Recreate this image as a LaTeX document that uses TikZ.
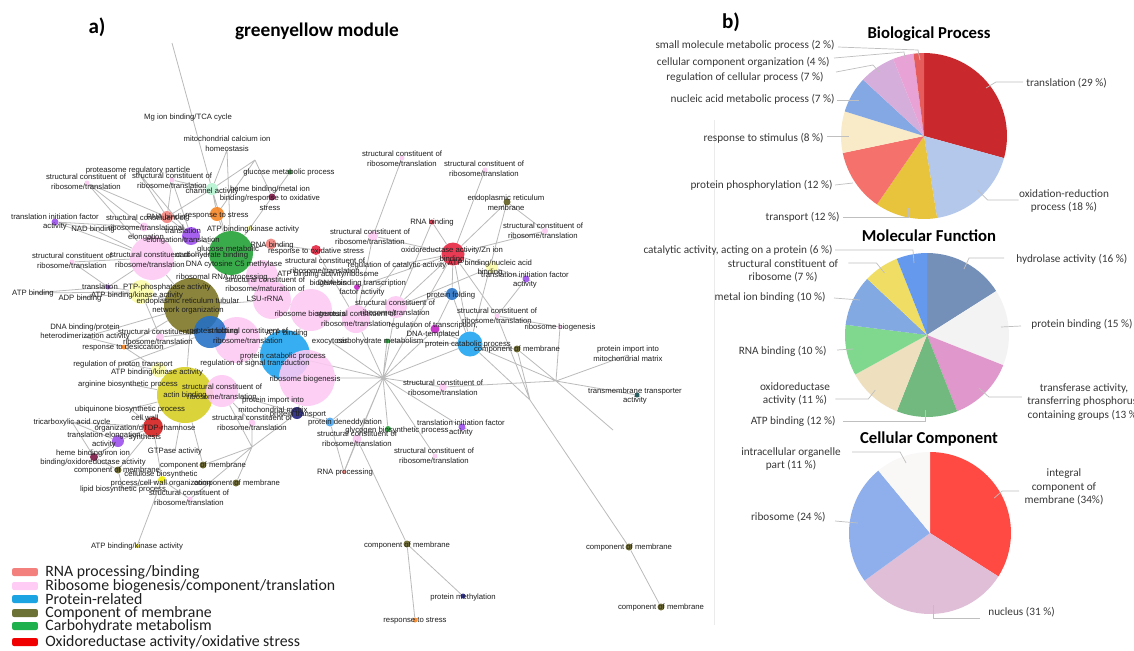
\documentclass[tikz,border=0pt]{standalone}
\usepackage{fontspec}
\setmainfont{Carlito}
\newfontfamily\netfont{Liberation Sans}
\usetikzlibrary{backgrounds}

\definecolor{pinkR}{HTML}{FDC9F4}
\definecolor{oliveB}{HTML}{7B7422}
\definecolor{oliveS}{HTML}{5F5C1E}
\definecolor{greenC}{HTML}{1FA033}
\definecolor{skyC}{HTML}{1CA3F0}
\definecolor{blueD}{HTML}{236FC6}
\definecolor{salmonC}{HTML}{F0807A}
\definecolor{orangeC}{HTML}{F5821F}
\definecolor{purpleC}{HTML}{9A4CEC}
\definecolor{crimsonC}{HTML}{E8213D}
\definecolor{redD}{HTML}{D41A1A}
\definecolor{yellowC}{HTML}{D6CE1E}
\definecolor{yellowB}{HTML}{F2F000}
\definecolor{lyellowC}{HTML}{FCFCA6}
\definecolor{maroonC}{HTML}{7A1242}
\definecolor{mintC}{HTML}{B2F2CF}
\definecolor{magentaC}{HTML}{C21FC4}
\definecolor{navyC}{HTML}{1C1C7E}
\definecolor{tealC}{HTML}{0F4A4A}
\definecolor{lblueC}{HTML}{46A4F2}
% legend
\definecolor{legRNA}{HTML}{F4807E}
\definecolor{legRibo}{HTML}{FFCCF6}
\definecolor{legProt}{HTML}{1BA3E2}
\definecolor{legMem}{HTML}{6C7136}
\definecolor{legCarb}{HTML}{1DB04C}
\definecolor{legOx}{HTML}{F00000}
% pies
\definecolor{bp1}{HTML}{C9292C}
\definecolor{bp2}{HTML}{B4C8EC}
\definecolor{bp3}{HTML}{E8C33C}
\definecolor{bp4}{HTML}{F4726B}
\definecolor{bp5}{HTML}{FAEBC8}
\definecolor{bp6}{HTML}{84A8E4}
\definecolor{bp7}{HTML}{D6AEDB}
\definecolor{bp8}{HTML}{E9A2D6}
\definecolor{bp9}{HTML}{E65C5C}
\definecolor{mf1}{HTML}{7590B8}
\definecolor{mf2}{HTML}{F3F3F3}
\definecolor{mf3}{HTML}{E098CC}
\definecolor{mf4}{HTML}{72B97F}
\definecolor{mf5}{HTML}{EEDFBF}
\definecolor{mf6}{HTML}{80D88F}
\definecolor{mf7}{HTML}{82A9E2}
\definecolor{mf8}{HTML}{F0DE64}
\definecolor{mf9}{HTML}{6499EE}
\definecolor{cc1}{HTML}{FF4A44}
\definecolor{cc2}{HTML}{E0BED7}
\definecolor{cc3}{HTML}{8EAFEC}
\definecolor{cc4}{HTML}{FAF7F7}

\begin{document}
\begin{tikzpicture}[x=0.02cm, y=-0.02cm,
  goterm/.style={circle, inner sep=0pt, minimum size={#1*0.02cm}, fill opacity=0.88},
  lbl/.style={font=\netfont\fontsize{4.4}{5.5}\selectfont, align=center, inner sep=0pt, text=black!88},
  link/.style={draw=black!27, line width=0.45pt},
  pielbl/.style={font=\fontsize{6.4}{7.8}\selectfont, text=black!78, inner sep=0pt},
  lead/.style={draw=black!25, line width=0.4pt},
  pietitle/.style={font=\bfseries\fontsize{9.5}{11}\selectfont, inner sep=0pt},
  legbox/.style={fill=#1, rounded corners=1.2pt, minimum width=0.52cm, minimum height=0.16cm, inner sep=0pt},
  legtxt/.style={font=\fontsize{9}{10}\selectfont, anchor=west, inner sep=0pt, text=black!88}]
\useasboundingbox (0,0) rectangle (1134,650);

\node[font=\bfseries\fontsize{12}{14}\selectfont] (la) at (97,27) {a)};
\node[font=\bfseries\fontsize{11}{13}\selectfont] (ttl) at (317,31) {greenyellow module};
\node[font=\bfseries\fontsize{12}{14}\selectfont] (lb) at (731,22) {b)};

% big terms
\node[goterm=56, fill=oliveB] (ertub) at (192,306) {};
\node[goterm=56, fill=yellowC] (actin) at (185,395) {};
\node[goterm=44, fill=greenC] (glucose) at (231,253) {};
\node[goterm=44, fill=pinkR] (ribo1) at (152,258) {};
\node[goterm=32, fill=pinkR] (ribo7) at (262,276) {};
\node[goterm=38, fill=pinkR] (ribo9) at (272,300) {};
\node[goterm=46, fill=pinkR] (ribo2) at (237,340) {};
\node[goterm=42, fill=pinkR] (ribo3) at (311,310) {};
\node[goterm=28, fill=pinkR] (ribo4) at (356,319) {};
\node[goterm=32, fill=pinkR] (ribo5) at (222,391) {};
\node[goterm=50, fill=skyC] (atpcat) at (285,355) {};
\node[goterm=56, fill=pinkR] (ribobig) at (307,378) {};
\node[goterm=32, fill=blueD] (pfold) at (210,332) {};
\node[goterm=22, fill=pinkR] (ribo6) at (396,307) {};
\node[goterm=25, fill=skyC] (pcat) at (470,344) {};
\node[goterm=23, fill=crimsonC] (oxzn) at (453,254) {};

% small terms
\node[goterm=18, fill=purpleC] (transl) at (191,236) {};
\node[goterm=24, fill=lyellowC] (ptp) at (141,292) {};
\node[goterm=15, fill=lyellowC] (atpk) at (159,370) {};
\node[goterm=20, fill=redD] (cellwall) at (153,427) {};
\node[goterm=12, fill=purpleC] (telong) at (118,441) {};
\node[goterm=12, fill=mintC] (chan) at (212,189) {};
\node[goterm=14, fill=orangeC] (respstr) at (217,214) {};
\node[goterm=12, fill=salmonC] (rnab1) at (167,217) {};
\node[goterm=7, fill=maroonC] (heme1) at (272,197) {};
\node[goterm=5, fill=greenC] (glumet) at (290,172) {};
\node[goterm=7, fill=purpleC] (tif1) at (55,222) {};
\node[goterm=9, fill=pinkR] (stel) at (144,227) {};
\node[goterm=5, fill=lyellowC] (atpk3) at (250,228) {};
\node[goterm=11, fill=salmonC] (rnab2) at (271,244) {};
\node[goterm=10, fill=crimsonC] (oxstr) at (316,250) {};
\node[goterm=5, fill=purpleC] (trl) at (108,287) {};
\node[goterm=5, fill=orangeC] (desicc) at (124,347) {};
\node[goterm=8, fill=pinkR] (st5) at (160,337) {};
\node[goterm=7, fill=pinkR] (st6) at (252,423) {};
\node[goterm=8, fill=maroonC] (heme2) at (94,457) {};
\node[goterm=7, fill=oliveS] (cm1) at (203,465) {};
\node[goterm=7, fill=oliveS] (cm2) at (118,470) {};
\node[goterm=8, fill=yellowB] (cellu) at (162,480) {};
\node[goterm=7, fill=oliveS] (cm3) at (236,483) {};
\node[goterm=5, fill=pinkR] (st10) at (190,499) {};
\node[goterm=4, fill=yellowC] (atpk2) at (137,546) {};
\node[goterm=12, fill=navyC] (ptrans) at (297,413) {};
\node[goterm=9, fill=lblueC] (pdened) at (330,422) {};
\node[goterm=6, fill=greenC] (glyco) at (388,429) {};
\node[goterm=4, fill=salmonC] (rnap) at (344,472) {};
\node[goterm=9, fill=pinkR] (st11) at (357,439) {};
\node[goterm=5, fill=pinkR] (st12) at (402,158) {};
\node[goterm=5, fill=pinkR] (st13) at (485,170) {};
\node[goterm=7, fill=oliveS] (ermem) at (507,202) {};
\node[goterm=5, fill=crimsonC] (rnab3) at (432,222) {};
\node[goterm=6, fill=pinkR] (st14) at (545,231) {};
\node[goterm=10, fill=pinkR] (st15) at (373,236) {};
\node[goterm=12, fill=lyellowC] (atpnuc) at (492,267) {};
\node[goterm=7, fill=purpleC] (tif2) at (526,279) {};
\node[goterm=12, fill=blueD] (pfold2) at (452,294) {};
\node[goterm=6, fill=magentaC] (dnatf) at (357,287) {};
\node[goterm=5, fill=pinkR] (st16) at (497,316) {};
\node[goterm=9, fill=magentaC] (regtr) at (435,329) {};
\node[goterm=4, fill=pinkR] (ribog) at (560,327) {};
\node[goterm=5, fill=greenC] (carbo) at (387,341) {};
\node[goterm=7, fill=oliveS] (cm4) at (517,349) {};
\node[goterm=8, fill=pinkR] (st17) at (443,387) {};
\node[goterm=5, fill=tealC] (tmt) at (637,395) {};
\node[goterm=7, fill=purpleC] (tif3) at (462,427) {};
\node[goterm=5, fill=pinkR] (st18) at (435,456) {};
\node[goterm=7, fill=oliveS] (cm5) at (407,544) {};
\node[goterm=5, fill=navyC] (pmeth) at (463,596) {};
\node[goterm=5, fill=orangeC] (resp2) at (415,620) {};
\node[goterm=7, fill=oliveS] (cm6) at (629,547) {};
\node[goterm=7, fill=oliveS] (cm7) at (661,607) {};
\node[goterm=5, fill=pinkR] (st1) at (87,183) {};
\node[goterm=5, fill=pinkR] (st2) at (172,180) {};
\node[goterm=5, fill=pinkR] (st3) at (72,262) {};

% white (hidden) nodes
\coordinate (htop) at (172,43);
\coordinate (hC) at (255,160);
\coordinate (hD) at (383,378);
\coordinate (hE) at (556,381);
\coordinate (hF) at (530,400);
\coordinate (hG) at (613,430);
\coordinate (hM) at (252,447);
\coordinate (mca) at (227,150);
\coordinate (prot) at (138,172);
\coordinate (nad) at (93,229);
\coordinate (atpb) at (33,293);
\coordinate (adp) at (80,298);
\coordinate (dnab) at (85,337);
\coordinate (rpt) at (123,364);
\coordinate (arg) at (128,384);
\coordinate (ubq) at (130,409);
\coordinate (tca) at (72,422);
\coordinate (gtp) at (175,451);
\coordinate (lipid) at (123,489);
\coordinate (regcat) at (397,265);
\coordinate (exo) at (330,341);
\coordinate (pimp) at (628,355);
\coordinate (rsig) at (255,363);

\begin{scope}[on background layer]
\fill[white] (0,0) rectangle (1134,650);
\draw[link] (htop) -- (chan) (mca) -- (chan) (hC) -- (chan) (hC) -- (respstr) (hC) -- (heme1) (mca) -- (glucose);
\draw[link] (chan) -- (st2) (chan) -- (rnab1) (chan) -- (respstr) (chan) -- (glucose) (prot) -- (rnab1) (prot) -- (transl);
\draw[link] (st1) -- (rnab1) (st1) -- (stel) (st1) -- (ribo1) (st2) -- (transl) (st2) -- (rnab1);
\draw[link] (glumet) -- (atpk3) (tif1) -- (stel) (tif1) -- (nad) (tif1) -- (ribo1) (nad) -- (ribo1);
\draw[link] (respstr) -- (glucose) (rnab1) -- (transl) (transl) -- (glucose) (atpk3) -- (glucose) (glucose) -- (rnab2) (rnab2) -- (oxstr) (oxstr) -- (ribo4) (glucose) -- (ribo7) (ribo7) -- (ribo9);
\draw[link] (trl) -- (ptp) (trl) -- (ribo1) (adp) -- (ptp) (st3) -- (ribo1) (st3) -- (trl) (atpb) -- (trl) (atpb) -- (ptp);
\draw[link] (dnab) -- (ertub) (dnab) -- (desicc) (desicc) -- (ertub) (desicc) -- (atpk) (rpt) -- (atpk) (rpt) -- (pfold) (arg) -- (actin) (ubq) -- (actin) (ubq) -- (cellwall);
\draw[link] (tca) -- (cellwall) (tca) -- (telong) (tca) -- (heme2) (telong) -- (cellwall) (heme2) -- (telong) (heme2) -- (cm2) (cm2) -- (cellwall) (cellu) -- (cellwall) (cellu) -- (atpk2) (lipid) -- (cellu) (lipid) -- (cm2);
\draw[link] (gtp) -- (actin) (cm1) -- (actin) (cm1) -- (hM) (cm3) -- (hM) (st10) -- (hM) (st10) -- (cellu) (hM) -- (ribo5) (hM) -- (ptrans) (hM) -- (st6);
\draw[link] (actin) -- (ribo5) (actin) -- (atpk) (actin) -- (ertub) (ptp) -- (ertub) (ertub) -- (pfold) (ertub) -- (ribo9) (ribo1) -- (ertub) (ribo1) -- (glucose);
\draw[link] (pfold) -- (ribo2) (ribo2) -- (atpcat) (ribo2) -- (rsig) (atpcat) -- (ribobig) (ribo9) -- (ribo3) (ribo3) -- (ribo4) (ribo3) -- (atpcat) (ribo5) -- (ptrans) (ptrans) -- (ribobig) (ptrans) -- (pdened) (st5) -- (pfold) (st5) -- (ptp) (st6) -- (ribo5);
\draw[link] (hD) -- (ribobig) (hD) -- (atpcat) (hD) -- (ribo4) (hD) -- (carbo) (hD) -- (pcat) (hD) -- (st17) (hD) -- (glyco) (hD) -- (tif3) (hD) -- (st18) (hD) -- (pdened) (hD) -- (regtr) (hD) -- (ribo6) (hD) -- (st11) (hD) -- (exo) (hD) -- (rnap) (hD) -- (oxzn);
\draw[link] (hE) -- (cm4) (hE) -- (pimp) (hE) -- (tmt) (hE) -- (ribog) (hE) -- (pcat) (hE) -- (st17) (hE) -- (hG);
\draw[link] (hF) -- (pcat) (hF) -- (cm4) (hF) -- (st16) (hF) -- (cm6) (cm6) -- (cm7) (st11) -- (cm5) (cm5) -- (pmeth) (cm5) -- (resp2) (rnap) -- (pdened) (rnap) -- (st11);
\draw[link] (oxzn) -- (ermem) (oxzn) -- (st13) (oxzn) -- (rnab3) (oxzn) -- (st14) (oxzn) -- (atpnuc) (oxzn) -- (pfold2) (oxzn) -- (regcat) (oxzn) -- (ribo6) (oxzn) -- (pcat) (oxzn) -- (st15) (oxzn) -- (dnatf) (oxzn) -- (st16);
\draw[link] (ermem) -- (st14) (ermem) -- (pcat) (st12) -- (st15) (st15) -- (ribo4) (rnab3) -- (ribo6) (atpnuc) -- (tif2) (atpnuc) -- (ribo6) (tif2) -- (st16) (pfold2) -- (pcat) (pfold2) -- (ribo6) (pfold2) -- (regtr) (dnatf) -- (ribo4) (regtr) -- (pcat) (carbo) -- (pcat) (st16) -- (ribog) (pcat) -- (cm4) (regcat) -- (ribo4);
\end{scope}

% term labels
\node[lbl] (mg-t) at (188,117) {Mg ion binding/TCA cycle};
\node[lbl] (mca-t) at (227,144) {mitochondrial calcium ion\\homeostasis};
\node[lbl] (prot-t) at (138,170) {proteasome regulatory particle};
\node[lbl] (st1-t) at (86,182) {structural constituent of\\ribosome/translation};
\node[lbl] (st2-t) at (172,181) {structural constituent of\\ribosome/translation};
\node[lbl] (glumet-t) at (289,172) {glucose metabolic process};
\node[lbl] (chan-t) at (212,191) {channel activity};
\node[lbl] (heme1-t) at (270,198) {heme binding/metal ion\\binding/response to oxidative\\stress};
\node[lbl] (respstr-t) at (217,216) {response to stress};
\node[lbl] (rnab1-t) at (168,217) {RNA binding};
\node[lbl] (tif1-t) at (55,222) {translation initiation factor\\activity};
\node[lbl] (stel-t) at (146,228) {structural constituent of\\ribosome/translational\\elongation};
\node[lbl] (nad-t) at (93,229) {NAD binding};
\node[lbl] (transl-t) at (183,236) {translation\\elongation/translation};
\node[lbl] (atpk3-t) at (253,229) {ATP binding/kinase activity};
\node[lbl] (gluc-t) at (228,249) {glucose metabolic};
\node[lbl] (carbb-t) at (212,255) {carbohydrate binding};
\node[lbl] (dnac-t) at (234,264) {DNA cytosine C5 methylase};
\node[lbl] (rnab2-t) at (272,245) {RNA binding};
\node[lbl] (oxstr-t) at (316,251) {response to oxidative stress};
\node[lbl] (st19-t) at (325,266) {structural constituent of\\ribosome/translation};
\node[lbl] (atpr-t) at (328,279) {ATP binding activity/ribosome\\biogenesis};
\node[lbl] (dnatf-t) at (362,288) {DNA-binding transcription\\factor activity};
\node[lbl] (regcat-t) at (397,265) {regulation of catalytic activity};
\node[lbl] (st3-t) at (72,261) {structural constituent of\\ribosome/translation};
\node[lbl] (ribo1-t) at (150,260) {structural constituent of\\ribosome/translation};
\node[lbl] (rrna-t) at (222,277) {ribosomal RNA processing};
\node[lbl] (ribo9-t) at (265,289) {structural constituent of\\ribosome/maturation of\\LSU-rRNA};
\node[lbl] (trl-t) at (100,287) {translation};
\node[lbl] (atpb-t) at (33,293) {ATP binding};
\node[lbl] (adp-t) at (80,298) {ADP binding};
\node[lbl] (ptp-t) at (167,287) {PTP-phosphatase activity};
\node[lbl] (atpk4-t) at (137,295) {ATP binding/kinase activity};
\node[lbl] (ertub-t) at (188,306) {endoplasmic reticulum tubular\\network organization};
\node[lbl] (dnab-t) at (85,332) {DNA binding/protein\\heterodimerization activity};
\node[lbl] (desicc-t) at (123,347) {response to desiccation};
\node[lbl] (st5-t) at (158,337) {structural constituent of\\ribosome/translation};
\node[lbl] (pfold-t) at (214,331) {protein folding};
\node[lbl] (ribo2-t) at (248,336) {structural constituent of\\ribosome/translation};
\node[lbl] (atpcat-t) at (287,333) {ATP binding};
\node[lbl] (exo-t) at (330,341) {exocytosis};
\node[lbl] (ribo3-t) at (310,314) {ribosome biogenesis};
\node[lbl] (ribo4-t) at (356,319) {structural constituent of\\ribosome/translation};
\node[lbl] (pcat1-t) at (283,356) {protein catabolic process};
\node[lbl] (rsig-t) at (255,363) {regulation of signal transduction};
\node[lbl] (rpt-t) at (123,364) {regulation of proton transport};
\node[lbl] (atpk-t) at (157,372) {ATP binding/kinase activity};
\node[lbl] (rbio-t) at (305,379) {ribosome biogenesis};
\node[lbl] (arg-t) at (128,384) {arginine biosynthetic process};
\node[lbl] (ribo5-t) at (222,392) {structural constituent of\\ribosome/translation};
\node[lbl] (actin-t) at (185,395) {actin binding};
\node[lbl] (pimpA-t) at (273,405) {protein import into\\mitochondrial matrix};
\node[lbl] (ubq-t) at (130,409) {ubiquinone biosynthetic process};
\node[lbl] (ptrans-t) at (298,414) {protein transport};
\node[lbl] (cellw-t) at (145,428) {cell wall\\organization/dTDP-rhamnose\\synthesis};
\node[lbl] (tca-t) at (72,422) {tricarboxylic acid cycle};
\node[lbl] (st6-t) at (252,423) {structural constituent of\\ribosome/translation};
\node[lbl] (pdened-t) at (345,422) {protein deneddylation};
\node[lbl] (telong-t) at (104,440) {translation elongation\\activity};
\node[lbl] (glyco-t) at (397,430) {glycogen biosynthetic process};
\node[lbl] (st11-t) at (357,439) {structural constituent of\\ribosome/translation};
\node[lbl] (gtp-t) at (175,451) {GTPase activity};
\node[lbl] (heme2-t) at (93,458) {heme binding/iron ion\\binding/oxidoreductase activity};
\node[lbl] (cm1-t) at (203,465) {component of membrane};
\node[lbl] (cm2-t) at (117,470) {component of membrane};
\node[lbl] (cellu-t) at (161,479) {cellulose biosynthetic\\process/cell wall organization};
\node[lbl] (lipid-t) at (123,489) {lipid biosynthetic process};
\node[lbl] (cm3-t) at (237,483) {component of membrane};
\node[lbl] (st10-t) at (189,498) {structural constituent of\\ribosome/translation};
\node[lbl] (rnap-t) at (345,472) {RNA processing};
\node[lbl] (atpk2-t) at (137,546) {ATP binding/kinase activity};
\node[lbl] (st12-t) at (402,159) {structural constituent of\\ribosome/translation};
\node[lbl] (st13-t) at (484,169) {structural constituent of\\ribosome/translation};
\node[lbl] (ermem-t) at (506,203) {endoplasmic reticulum\\membrane};
\node[lbl] (rnab3-t) at (432,222) {RNA binding};
\node[lbl] (st14-t) at (543,231) {structural constituent of\\ribosome/translation};
\node[lbl] (st15-t) at (370,237) {structural constituent of\\ribosome/translation};
\node[lbl] (oxzn-t) at (452,255) {oxidoreductase activity/Zn ion\\binding};
\node[lbl] (atpnuc-t) at (490,268) {ATP binding/nucleic acid\\binding};
\node[lbl] (tif2-t) at (525,280) {translation initiation factor\\activity};
\node[lbl] (pfold2-t) at (451,295) {protein folding};
\node[lbl] (ribo6-t) at (395,308) {structural constituent of\\ribosome/translation};
\node[lbl] (st16-t) at (497,316) {structural constituent of\\ribosome/translation};
\node[lbl] (regtr-t) at (433,330) {regulation of transcription,\\DNA-templated};
\node[lbl] (ribog-t) at (560,327) {ribosome biogenesis};
\node[lbl] (carbo-t) at (380,341) {carbohydrate metabolism};
\node[lbl] (pcat-t) at (468,344) {protein catabolic process};
\node[lbl] (cm4-t) at (517,349) {component of membrane};
\node[lbl] (pimp-t) at (628,354) {protein import into\\mitochondrial matrix};
\node[lbl] (st17-t) at (443,388) {structural constituent of\\ribosome/translation};
\node[lbl] (tmt-t) at (635,396) {transmembrane transporter\\activity};
\node[lbl] (tif3-t) at (461,428) {translation initiation factor\\activity};
\node[lbl] (st18-t) at (434,456) {structural constituent of\\ribosome/translation};
\node[lbl] (cm5-t) at (407,545) {component of membrane};
\node[lbl] (pmeth-t) at (463,597) {protein methylation};
\node[lbl] (resp2-t) at (415,621) {response to stress};
\node[lbl] (cm6-t) at (629,547) {component of membrane};
\node[lbl] (cm7-t) at (661,607) {component of membrane};

% legend
\node[legbox=legRNA] (lg1) at (25,572) {};
\node[legtxt] (lg1-t) at (45,572) {RNA processing/binding};
\node[legbox=legRibo] (lg2) at (25,586) {};
\node[legtxt] (lg2-t) at (45,586) {Ribosome biogenesis/component/translation};
\node[legbox=legProt] (lg3) at (25,599) {};
\node[legtxt] (lg3-t) at (45,599) {Protein-related};
\node[legbox=legMem] (lg4) at (25,613) {};
\node[legtxt] (lg4-t) at (45,613) {Component of membrane};
\node[legbox=legCarb] (lg5) at (25,626) {};
\node[legtxt] (lg5-t) at (45,626) {Carbohydrate metabolism};
\node[legbox=legOx] (lg6) at (25,642) {};
\node[legtxt] (lg6-t) at (45,642) {Oxidoreductase activity/oxidative stress};

\draw[draw=black!8, line width=0.5pt] (714,120) -- (714,625);

% Biological Process
\node[pietitle] (bpt) at (929,34) {Biological Process};
\coordinate (bp) at (924,136);
\fill[bp1] (bp) -- ++(90:1.66cm) arc[start angle=90, end angle=-15.45, radius=1.66cm] -- cycle;
\fill[bp2] (bp) -- ++(-15.45:1.66cm) arc[start angle=-15.45, end angle=-80.91, radius=1.66cm] -- cycle;
\fill[bp3] (bp) -- ++(-80.91:1.66cm) arc[start angle=-80.91, end angle=-124.55, radius=1.66cm] -- cycle;
\fill[bp4] (bp) -- ++(-124.55:1.66cm) arc[start angle=-124.55, end angle=-168.18, radius=1.66cm] -- cycle;
\fill[bp5] (bp) -- ++(-168.18:1.66cm) arc[start angle=-168.18, end angle=-197.27, radius=1.66cm] -- cycle;
\fill[bp6] (bp) -- ++(-197.27:1.66cm) arc[start angle=-197.27, end angle=-222.73, radius=1.66cm] -- cycle;
\fill[bp7] (bp) -- ++(-222.73:1.66cm) arc[start angle=-222.73, end angle=-248.18, radius=1.66cm] -- cycle;
\fill[bp8] (bp) -- ++(-248.18:1.66cm) arc[start angle=-248.18, end angle=-262.73, radius=1.66cm] -- cycle;
\fill[bp9] (bp) -- ++(-262.73:1.66cm) arc[start angle=-262.73, end angle=-270, radius=1.66cm] -- cycle;
\node[pielbl, anchor=east] (bl9) at (835,45) {small molecule metabolic process (2 \%)};
\node[pielbl, anchor=east] (bl8) at (830,62) {cellular component organization (4 \%)};
\node[pielbl, anchor=east] (bl7) at (824,77) {regulation of cellular process (7 \%)};
\node[pielbl, anchor=east] (bl6) at (835,99) {nucleic acid metabolic process (7 \%)};
\node[pielbl, anchor=east] (bl5) at (824,138) {response to stimulus (8 \%)};
\node[pielbl, anchor=east] (bl4) at (833,185) {protein phosphorylation (12 \%)};
\node[pielbl, anchor=east] (bl3) at (840,217) {transport (12 \%)};
\node[pielbl, anchor=west] (bl1) at (1026,83) {translation (29 \%)};
\node[pielbl, align=center] (bl2) at (1064,201) {oxidation-reduction\\process (18 \%)};
\draw[lead] (bl9.east) ++(3,2) -- ++(80,3) -- ++(2,10);
\draw[lead] (bl8.east) ++(4,-4) -- ++(70,-6) -- ++(2,11);
\draw[lead] (bl7.east) ++(12,-5) -- ++(37,-7) -- ++(7,8);
\draw[lead] (bl6.east) ++(2,1) -- ++(22,0);
\draw[lead] (bl5.east) ++(3,-2) -- ++(22,0);
\draw[lead] (bl4.east) ++(2,0) -- ++(18,-2);
\draw[lead] (bl3.east) ++(3,0) -- ++(65,0) -- ++(0,-9);
\draw[lead] (bl1.west) ++(-3,-1) -- ++(-27,0) -- ++(-10,6);
\draw[lead] (bl2.west) ++(0,-1) -- ++(-31,0) -- ++(-10,-10);

% Molecular Function
\node[pietitle] (mft) at (929,236) {Molecular Function};
\coordinate (mf) at (927,335);
\fill[mf1] (mf) -- ++(90:1.64cm) arc[start angle=90, end angle=32.4, radius=1.64cm] -- cycle;
\fill[mf2] (mf) -- ++(32.4:1.64cm) arc[start angle=32.4, end angle=-21.6, radius=1.64cm] -- cycle;
\fill[mf3] (mf) -- ++(-21.6:1.64cm) arc[start angle=-21.6, end angle=-68.4, radius=1.64cm] -- cycle;
\fill[mf4] (mf) -- ++(-68.4:1.64cm) arc[start angle=-68.4, end angle=-111.6, radius=1.64cm] -- cycle;
\fill[mf5] (mf) -- ++(-111.6:1.64cm) arc[start angle=-111.6, end angle=-151.2, radius=1.64cm] -- cycle;
\fill[mf6] (mf) -- ++(-151.2:1.64cm) arc[start angle=-151.2, end angle=-187.2, radius=1.64cm] -- cycle;
\fill[mf7] (mf) -- ++(-187.2:1.64cm) arc[start angle=-187.2, end angle=-223.2, radius=1.64cm] -- cycle;
\fill[mf8] (mf) -- ++(-223.2:1.64cm) arc[start angle=-223.2, end angle=-248.4, radius=1.64cm] -- cycle;
\fill[mf9] (mf) -- ++(-248.4:1.64cm) arc[start angle=-248.4, end angle=-270, radius=1.64cm] -- cycle;
\node[pielbl, anchor=east] (ml9) at (833,250) {catalytic activity, acting on a protein (6 \%)};
\node[pielbl, align=center] (ml8) at (783,271) {structural constituent of\\ribosome (7 \%)};
\node[pielbl, anchor=east] (ml7) at (826,297) {metal ion binding (10 \%)};
\node[pielbl, anchor=east] (ml6) at (827,351) {RNA binding (10 \%)};
\node[pielbl, align=center] (ml5) at (795,394) {oxidoreductase\\activity (11 \%)};
\node[pielbl, anchor=east] (ml4) at (836,421) {ATP binding (12 \%)};
\node[pielbl, anchor=west] (ml1) at (1016,259) {hydrolase activity (16 \%)};
\node[pielbl, anchor=west] (ml2) at (1031,324) {protein binding (15 \%)};
\node[pielbl, align=center] (ml3) at (1084,402) {transferase activity,\\transferring phosphorus-\\containing groups (13 \%)};
\draw[lead] (ml9.east) ++(2,0) -- ++(78,0) -- ++(1,13);
\draw[lead] (ml8.east) ++(10,-8) -- ++(28,0) -- ++(8,10);
\draw[lead] (ml7.east) ++(8,1) -- ++(26,2);
\draw[lead] (ml6.east) ++(10,-1) -- ++(16,-1);
\draw[lead] (ml5.east) ++(5,5) -- ++(33,0) -- ++(7,-9);
\draw[lead] (ml4.east) ++(7,0) -- ++(82,0) -- ++(0,-11);
\draw[lead] (ml1.west) ++(-12,-1) -- ++(-35,0) -- ++(-5,11);
\draw[lead] (ml2.west) ++(-10,2) -- ++(-20,1);
\draw[lead] (ml3.west) ++(-5,-5) -- ++(-33,0) -- ++(-10,-9);

% Cellular Component
\node[pietitle] (cct) at (929,439) {Cellular Component};
\coordinate (cc) at (930,533);
\fill[cc1] (cc) -- ++(90:1.62cm) arc[start angle=90, end angle=-32.4, radius=1.62cm] -- cycle;
\fill[cc2] (cc) -- ++(-32.4:1.62cm) arc[start angle=-32.4, end angle=-144, radius=1.62cm] -- cycle;
\fill[cc3] (cc) -- ++(-144:1.62cm) arc[start angle=-144, end angle=-230.4, radius=1.62cm] -- cycle;
\fill[cc4] (cc) -- ++(-230.4:1.62cm) arc[start angle=-230.4, end angle=-270, radius=1.62cm] -- cycle;
\node[pielbl, align=center] (cl4) at (791,459) {intracellular organelle\\part (11 \%)};
\node[pielbl, anchor=east] (cl3) at (826,517) {ribosome (24 \%)};
\node[pielbl, align=center] (cl1) at (1064,487) {integral\\component of\\membrane (34\%)};
\node[pielbl, anchor=west] (cl2) at (988,612) {nucleus (31 \%)};
\draw[lead] (cl4.east) ++(11,-7) -- ++(48,0) -- ++(6,11);
\draw[lead] (cl3.east) ++(9,4) -- ++(23,2);
\draw[lead] (cl1.west) ++(-5,4) -- ++(-17,0) -- ++(-8,7);
\draw[lead] (cl2.west) ++(-8,6) -- ++(-47,0) -- ++(0,-13);

\end{tikzpicture}
\end{document}
